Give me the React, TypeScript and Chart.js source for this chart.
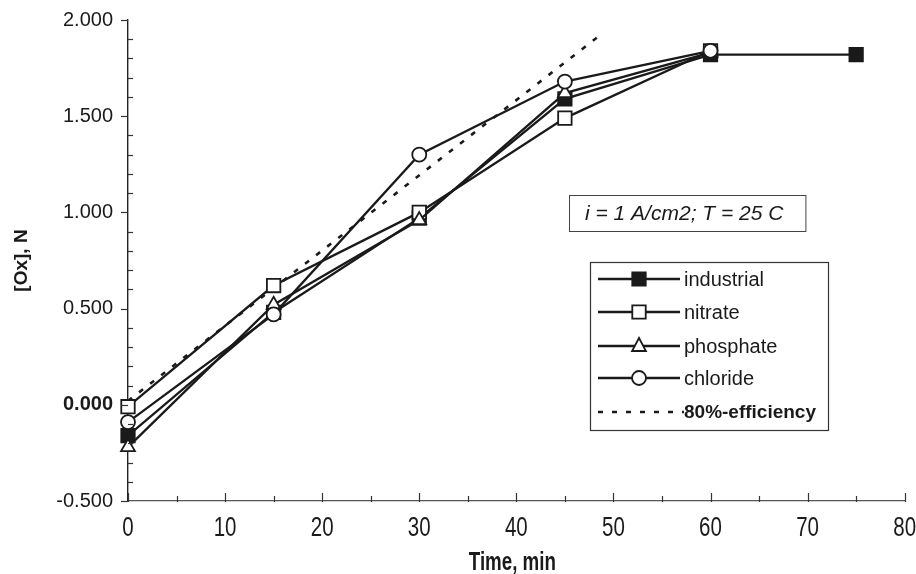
import React, { useEffect, useRef } from "react";
import { Chart, registerables } from "chart.js";

Chart.register(...registerables);

// ---- data ----
const timeMin = [0, 15, 30, 45, 60];
const industrialTime = [0, 15, 30, 45, 60, 75];
const industrial = [-0.16, 0.48, 0.97, 1.59, 1.82, 1.82];
const nitrate = [-0.01, 0.62, 1.0, 1.49, 1.84];
const phosphate = [-0.22, 0.52, 0.96, 1.62, 1.83];
const chloride = [-0.09, 0.47, 1.3, 1.68, 1.84];
const efficiencyTime = [0, 48.6];
const efficiency = [0.02, 1.92];

const seriesNames = ["industrial", "nitrate", "phosphate", "chloride", "80%-efficiency"];
const xTickLabels = ["0", "10", "20", "30", "40", "50", "60", "70", "80"];
const annotationText = "i = 1 A/cm2; T = 25 C";
const xTitle = "Time, min";
const yTitle = "[Ox], N";

const xMin = 0, xMax = 80, xMajor = 10, xMinor = 5;
const yMin = -0.5, yMax = 2.0, yMajor = 0.5, yMinor = 0.1;

const SANS = '"Liberation Sans", Arial, sans-serif';
const INK = "#1a1a1a";

const pts = (xs: number[], ys: number[]) => xs.map((x, i) => ({ x, y: ys[i] }));

function drawMarker(ctx: CanvasRenderingContext2D, style: string, x: number, y: number, r: number, fill: string) {
  ctx.beginPath();
  if (style === "rect") {
    const s = r * Math.SQRT1_2;
    ctx.rect(x - s, y - s, 2 * s, 2 * s);
  } else if (style === "triangle") {
    ctx.moveTo(x, y - r);
    ctx.lineTo(x + r * 0.866, y + r * 0.5 + 1);
    ctx.lineTo(x - r * 0.866, y + r * 0.5 + 1);
    ctx.closePath();
  } else {
    ctx.arc(x, y, r, 0, Math.PI * 2);
  }
  ctx.fillStyle = fill;
  ctx.fill();
  ctx.stroke();
}

const ticksPlugin = {
  id: "customTicks",
  afterDatasetsDraw(chart: any) {
    const { ctx, scales } = chart;
    const x = scales.x, y = scales.y;
    ctx.save();
    ctx.strokeStyle = "#333";
    ctx.lineWidth = 1.2;
    const left = x.getPixelForValue(xMin);
    const bottom = y.getPixelForValue(yMin);
    // y ticks: majors outward, minors inward
    const ny = Math.round((yMax - yMin) / yMinor);
    for (let i = 0; i <= ny; i++) {
      const v = yMin + i * yMinor;
      const py = Math.round(y.getPixelForValue(v)) + 0.5;
      const major = Math.abs(v / yMajor - Math.round(v / yMajor)) < 1e-6;
      ctx.beginPath();
      if (major) { ctx.moveTo(left - 7, py); ctx.lineTo(left, py); }
      else { ctx.moveTo(left, py); ctx.lineTo(left + 5, py); }
      ctx.stroke();
    }
    // x ticks: upward
    const nx = Math.round((xMax - xMin) / xMinor);
    for (let i = 0; i <= nx; i++) {
      const v = xMin + i * xMinor;
      const px = Math.round(x.getPixelForValue(v)) + 0.5;
      const major = Math.abs(v / xMajor - Math.round(v / xMajor)) < 1e-6;
      ctx.beginPath();
      ctx.moveTo(px, bottom + 1);
      ctx.lineTo(px, bottom - (major ? 8 : 5));
      ctx.stroke();
    }
    // x tick labels and title in a condensed face
    ctx.fillStyle = INK;
    ctx.textAlign = "center";
    ctx.textBaseline = "middle";
    ctx.font = `27px ${SANS}`;
    xTickLabels.forEach((lab, i) => {
      const px = x.getPixelForValue(xMin + i * xMajor);
      ctx.save();
      ctx.translate(px, bottom + 28);
      ctx.scale(0.76, 1);
      ctx.fillText(lab, 0, 0);
      ctx.restore();
    });
    ctx.font = `bold 25px ${SANS}`;
    ctx.save();
    ctx.translate((chart.chartArea.left + chart.chartArea.right) / 2 - 4, 563);
    ctx.scale(0.75, 1);
    ctx.fillText(xTitle, 0, 0);
    ctx.restore();
    ctx.restore();
  },
};

const boxesPlugin = {
  id: "legendAndNote",
  afterDraw(chart: any) {
    const { ctx } = chart;
    ctx.save();
    // annotation box
    ctx.font = `italic 21px ${SANS}`;
    const tw = ctx.measureText(annotationText).width;
    const bx = 569, by = 195, bh = 36;
    ctx.strokeStyle = "#444";
    ctx.lineWidth = 1;
    ctx.strokeRect(bx + 0.5, by + 0.5, tw + 38, bh);
    ctx.fillStyle = INK;
    ctx.textBaseline = "middle";
    ctx.textAlign = "left";
    ctx.fillText(annotationText, bx + 16, by + bh / 2 + 1);

    // legend box
    const lx = 590, ly = 262, lw = 238, lh = 168;
    ctx.strokeStyle = "#333";
    ctx.lineWidth = 1.2;
    ctx.strokeRect(lx + 0.5, ly + 0.5, lw, lh);
    const rows = [279, 312, 346, 378, 412];
    chart.data.datasets.forEach((ds: any, i: number) => {
      const ry = rows[i];
      ctx.strokeStyle = INK;
      ctx.lineWidth = ds.borderWidth;
      ctx.setLineDash(ds.borderDash || []);
      ctx.beginPath();
      ctx.moveTo(lx + 8, ry);
      ctx.lineTo(lx + (ds.borderDash ? 94 : 90), ry);
      ctx.stroke();
      ctx.setLineDash([]);
      if (ds.pointRadius > 0) {
        ctx.lineWidth = ds.pointBorderWidth;
        drawMarker(ctx, ds.pointStyle, lx + 49, ry, ds.pointRadius, ds.pointBackgroundColor);
      }
      ctx.fillStyle = INK;
      ctx.font = ds.borderDash ? `bold 19px ${SANS}` : `20px ${SANS}`;
      ctx.fillText(ds.label, lx + 94, ry + 1);
    });
    ctx.restore();
  },
};

export default function App() {
  const ref = useRef<HTMLCanvasElement>(null);

  useEffect(() => {
    if (!ref.current) return;
    const common = {
      borderColor: INK,
      borderWidth: 2.3,
      pointBorderColor: INK,
      pointBorderWidth: 1.8,
      showLine: true,
      fill: false,
      tension: 0,
      clip: false,
    };
    const chart = new Chart(ref.current, {
      type: "scatter",
      data: {
        datasets: [
          { ...common, order: 3, label: seriesNames[0], data: pts(industrialTime, industrial), pointStyle: "rect", pointRadius: 9.5, pointBackgroundColor: INK },
          { ...common, order: 2, label: seriesNames[1], data: pts(timeMin, nitrate), pointStyle: "rect", pointRadius: 9.5, pointBackgroundColor: "#ffffff" },
          { ...common, order: 1, label: seriesNames[2], data: pts(timeMin, phosphate), pointStyle: "triangle", pointRadius: 8, pointBackgroundColor: "#ffffff" },
          { ...common, order: 0, label: seriesNames[3], data: pts(timeMin, chloride), pointStyle: "circle", pointRadius: 7, pointBackgroundColor: "#ffffff" },
          { ...common, order: 4, label: seriesNames[4], data: pts(efficiencyTime, efficiency), borderWidth: 2.6, borderDash: [5, 9], pointRadius: 0, pointBackgroundColor: "#ffffff" },
        ] as any,
      },
      options: {
        responsive: false,
        animation: false,
        layout: { padding: { top: 20, right: 11, bottom: 0, left: 0 } },
        plugins: { legend: { display: false }, tooltip: { enabled: false } },
        scales: {
          x: {
            type: "linear",
            min: xMin,
            max: xMax,
            afterFit: (s: any) => { s.height = 73; s.paddingLeft = 0; s.paddingRight = 0; },
            grid: { display: false, drawTicks: false },
            border: { display: true, color: "#555", width: 1.2 },
            ticks: { stepSize: xMajor, display: false },
            title: { display: false, text: xTitle },
          },
          y: {
            type: "linear",
            min: yMin,
            max: yMax,
            afterFit: (s: any) => { s.width = 128; s.paddingTop = 0; s.paddingBottom = 0; },
            grid: { display: false, drawTicks: false },
            border: { display: true, color: "#222", width: 1.4 },
            ticks: {
              stepSize: yMajor,
              padding: 15,
              color: INK,
              callback: (v: any) => Number(v).toFixed(3),
              font: (c: any) => ({ family: SANS, size: 20, weight: c.tick && Math.abs(c.tick.value) < 1e-9 ? "bold" : "normal" }),
            },
            title: { display: true, text: yTitle, color: INK, padding: { top: 10, bottom: 0 }, font: { family: SANS, size: 19, weight: "bold" } },
          },
        },
      } as any,
      plugins: [ticksPlugin, boxesPlugin],
    });
    return () => chart.destroy();
  }, []);

  return (
    <div style={{ position: "absolute", left: 0, top: 0, width: 916, height: 574, background: "#fff" }}>
      <canvas ref={ref} width={916} height={574} />
    </div>
  );
}
